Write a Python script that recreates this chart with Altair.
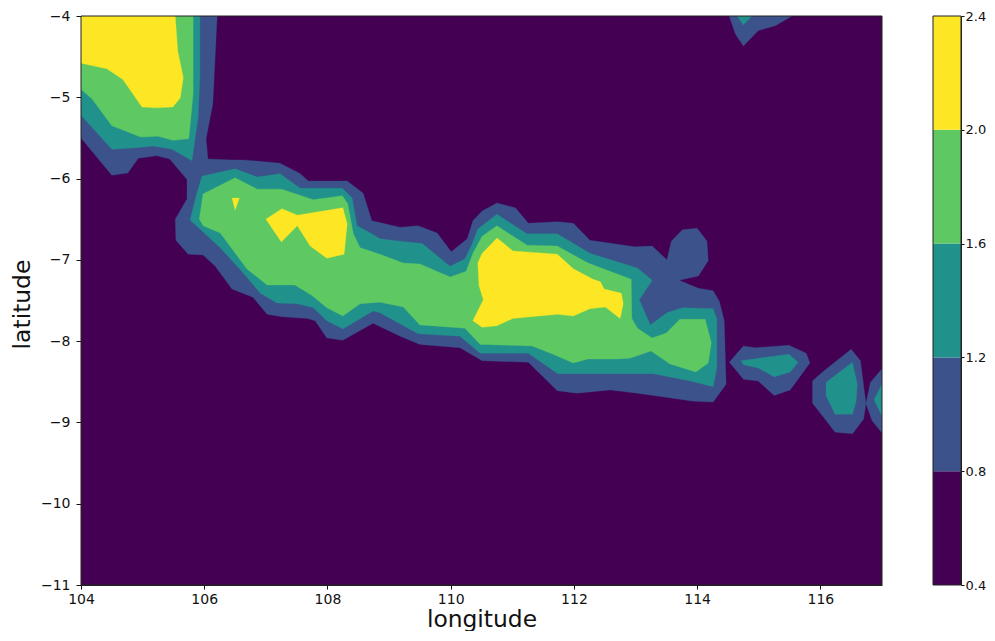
import altair as alt
import pandas as pd

LEVELS = [0.4, 0.8, 1.2, 1.6, 2.0, 2.4]
COLORS = ["#440154", "#3b528b", "#21918c", "#5ec962", "#fde725"]

BLUE_MAIN = [(104,-4),(106.21,-4),(106.14,-5.08),(106.03,-5.51),(106.06,-5.76),(106.47,-5.77),(106.63,-5.77),(107.23,-5.81),(107.56,-5.94),(107.69,-6.03),(108.32,-6.03),(108.58,-6.18),(108.72,-6.52),(109.18,-6.60),(109.47,-6.58),(109.78,-6.67),(110.01,-6.90),(110.27,-6.74),(110.36,-6.52),(110.51,-6.40),(110.75,-6.30),(111.05,-6.36),(111.26,-6.55),(111.73,-6.53),(111.99,-6.55),(112.26,-6.76),(112.99,-6.84),(113.27,-6.83),(113.51,-7.00),(113.58,-6.77),(113.76,-6.63),(114.00,-6.61),(114.16,-6.77),(114.18,-7.01),(114.02,-7.20),(113.71,-7.25),(114.02,-7.35),(114.26,-7.38),(114.36,-7.51),(114.44,-7.75),(114.47,-8.53),(114.26,-8.75),(113.94,-8.74),(113.03,-8.64),(112.59,-8.60),(112.05,-8.64),(111.73,-8.61),(111.26,-8.26),(110.51,-8.24),(110.15,-8.08),(109.50,-8.04),(109.18,-7.94),(108.74,-7.78),(108.25,-7.99),(107.99,-7.96),(107.80,-7.75),(107.67,-7.72),(107.26,-7.70),(107.02,-7.67),(106.79,-7.46),(106.45,-7.36),(106.18,-7.08),(105.98,-6.94),(105.74,-6.93),(105.54,-6.76),(105.53,-6.50),(105.72,-6.25),(105.72,-6.01),(105.44,-5.76),(105.23,-5.72),(104.93,-5.75),(104.76,-5.93),(104.50,-5.96),(104,-5.50)]
BLUE_BALI = [(114.52,-8.26),(114.75,-8.06),(114.94,-8.08),(115.49,-8.05),(115.77,-8.15),(115.83,-8.27),(115.51,-8.60),(115.25,-8.67),(114.99,-8.49),(114.75,-8.47)]
BLUE_LOMBOK = [(115.87,-8.49),(116.05,-8.37),(116.50,-8.10),(116.65,-8.24),(116.74,-8.77),(116.70,-8.96),(116.52,-9.14),(116.24,-9.12),(115.87,-8.76)]
BLUE_EDGE = [(117,-8.34),(116.81,-8.51),(116.74,-8.77),(116.84,-8.98),(117,-9.13)]
BLUE_TOP = [(114.52,-4),(114.62,-4.22),(114.75,-4.37),(114.99,-4.18),(115.27,-4.12),(115.54,-4)]

TEAL_NW = [(104,-4),(105.93,-4),(105.93,-4.76),(105.90,-5.25),(105.80,-5.78),(105.48,-5.64),(105.17,-5.60),(104.91,-5.62),(104.50,-5.64),(104,-5.22)]
TEAL_MAIN = [(105.96,-5.97),(106.50,-5.88),(106.86,-5.98),(107.23,-5.94),(107.56,-6.12),(108.24,-6.12),(108.40,-6.24),(108.48,-6.58),(108.72,-6.68),(108.85,-6.74),(109.18,-6.77),(109.54,-6.80),(109.75,-6.93),(109.99,-7.08),(110.23,-6.99),(110.35,-6.80),(110.44,-6.62),(110.75,-6.44),(111.24,-6.68),(111.73,-6.68),(112.26,-6.92),(113.03,-7.10),(113.27,-7.25),(113.06,-7.49),(113.24,-7.80),(113.51,-7.65),(113.76,-7.59),(114.26,-7.60),(114.32,-7.73),(114.32,-8.33),(114.26,-8.56),(113.89,-8.49),(113.29,-8.40),(112.59,-8.40),(111.74,-8.40),(111.26,-8.15),(110.48,-8.15),(110.15,-7.94),(109.47,-7.91),(108.85,-7.65),(108.74,-7.63),(108.25,-7.85),(107.99,-7.75),(107.77,-7.59),(107.51,-7.54),(107.18,-7.53),(106.91,-7.41),(106.63,-7.16),(106.26,-6.85),(105.77,-6.51),(105.88,-6.18)]
TEAL_BALI = [(114.71,-8.24),(115.49,-8.16),(115.64,-8.26),(115.51,-8.38),(115.25,-8.44),(114.99,-8.33),(114.75,-8.29)]
TEAL_LOMBOK = [(116.09,-8.51),(116.52,-8.26),(116.60,-8.53),(116.58,-8.74),(116.52,-8.90),(116.24,-8.90),(116.09,-8.67)]
TEAL_EDGE = [(117,-8.53),(116.87,-8.72),(117,-8.92)]
TEAL_TOP = [(114.65,-4),(114.75,-4.11),(114.89,-4)]

GREEN_NW = [(104,-4),(105.82,-4),(105.82,-4.96),(105.75,-5.51),(105.49,-5.53),(105.25,-5.48),(104.97,-5.49),(104.50,-5.35),(104.18,-5.02),(104,-4.90)]
GREEN_MAIN = [(105.92,-6.50),(105.98,-6.19),(106.50,-5.99),(106.86,-6.13),(107.26,-6.13),(107.77,-6.26),(108.24,-6.21),(108.33,-6.31),(108.42,-6.68),(108.53,-6.85),(108.85,-6.93),(109.23,-7.04),(109.50,-7.05),(109.99,-7.21),(110.25,-7.14),(110.36,-6.92),(110.51,-6.71),(110.75,-6.58),(111.24,-6.82),(111.73,-6.83),(112.23,-7.04),(112.93,-7.24),(112.94,-7.72),(113.03,-7.84),(113.27,-7.96),(113.50,-7.90),(113.72,-7.73),(114.13,-7.73),(114.23,-8.02),(114.18,-8.27),(113.98,-8.38),(113.56,-8.28),(113.25,-8.12),(112.91,-8.21),(112.70,-8.22),(112.23,-8.22),(111.99,-8.27),(111.66,-8.16),(111.32,-8.06),(110.48,-8.04),(110.23,-7.84),(109.50,-7.80),(109.23,-7.58),(108.85,-7.52),(108.53,-7.54),(108.25,-7.69),(107.99,-7.59),(107.75,-7.44),(107.47,-7.31),(107.02,-7.31),(106.69,-7.11),(106.26,-6.67),(105.98,-6.58)]

YELLOW_NW = [(104,-4),(105.53,-4),(105.57,-4.43),(105.66,-4.76),(105.61,-5.01),(105.49,-5.12),(105.23,-5.13),(104.99,-5.12),(104.68,-4.78),(104.42,-4.65),(104,-4.58)]
YELLOW_DOT = [(106.45,-6.24),(106.57,-6.24),(106.50,-6.39)]
YELLOW_WEST = [(107.00,-6.50),(107.26,-6.37),(107.51,-6.45),(108.25,-6.36),(108.32,-6.56),(108.27,-6.93),(107.99,-6.98),(107.72,-6.83),(107.51,-6.58),(107.25,-6.78)]
YELLOW_EAST = [(110.75,-6.73),(111.01,-6.89),(111.73,-6.93),(111.99,-7.11),(112.31,-7.24),(112.43,-7.27),(112.49,-7.36),(112.77,-7.41),(112.80,-7.54),(112.75,-7.72),(112.51,-7.58),(112.26,-7.60),(111.99,-7.69),(111.73,-7.67),(111.01,-7.72),(110.75,-7.81),(110.51,-7.83),(110.36,-7.75),(110.53,-7.49),(110.46,-7.32),(110.44,-7.04),(110.51,-6.92)]

BANDS = [
    (COLORS[1], [BLUE_MAIN, BLUE_BALI, BLUE_LOMBOK, BLUE_EDGE, BLUE_TOP]),
    (COLORS[2], [TEAL_NW, TEAL_MAIN, TEAL_BALI, TEAL_LOMBOK, TEAL_EDGE, TEAL_TOP]),
    (COLORS[3], [GREEN_NW, GREEN_MAIN]),
    (COLORS[4], [YELLOW_NW, YELLOW_DOT, YELLOW_WEST, YELLOW_EAST]),
]

FONT = "DejaVu Sans"
x_scale = alt.Scale(domain=[104, 117], nice=False, zero=False)
y_scale = alt.Scale(domain=[-11, -4], nice=False, zero=False)
x_axis = alt.Axis(title="longitude", values=list(range(104, 117, 2)), grid=False, format="d",
                  titleFontSize=23.4, titleFont=FONT, titleFontWeight="normal", titleColor="#111",
                  labelFont=FONT, labelFontSize=14, labelColor="#111", labelFlush=False,
                  tickColor="#111", tickSize=4, domainColor="#222", labelPadding=3, titlePadding=2)
y_axis = alt.Axis(title="latitude", values=list(range(-11, -3)), grid=False, format="d",
                  titleFontSize=23.4, titleFont=FONT, titleFontWeight="normal", titleColor="#111",
                  labelFont=FONT, labelFontSize=14, labelColor="#111", titleY=288,
                  tickColor="#111", tickSize=5, domainColor="#222", labelPadding=6, titlePadding=6)

frame = pd.DataFrame({"lon": [104], "lat": [-11], "lon2": [117], "lat2": [-4]})
X = alt.X("lon:Q", scale=x_scale, axis=x_axis)
Y = alt.Y("lat:Q", scale=y_scale, axis=y_axis)

layers = [alt.Chart(frame).mark_rect(color=COLORS[0]).encode(x=X, x2="lon2:Q", y=Y, y2="lat2:Q")]
for color, regions in BANDS:
    rows = []
    for r, region in enumerate(regions):
        for i, (lon, lat) in enumerate(region):
            rows.append({"lon": lon, "lat": lat, "region": r, "idx": i})
    layers.append(
        alt.Chart(pd.DataFrame(rows))
        .mark_line(fill=color, stroke=color, strokeWidth=0.3, interpolate="linear", clip=True)
        .encode(x=X, y=Y, detail="region:N", order="idx:Q")
    )
layers.append(
    alt.Chart(frame).mark_rect(fill=None, stroke="#222", strokeWidth=1)
    .encode(x=X, x2="lon2:Q", y=Y, y2="lat2:Q")
)
main = alt.layer(*layers).properties(width=801, height=569)

bar = pd.DataFrame({"lo": LEVELS[:-1], "hi": LEVELS[1:], "c": COLORS})
cy = alt.Y("lo:Q", scale=alt.Scale(domain=[0.4, 2.4], nice=False, zero=False),
           axis=alt.Axis(orient="right", title=None, values=LEVELS, format=".1f", grid=False,
                         labelFont=FONT, labelFontSize=13, labelColor="#111",
                         tickColor="#111", tickSize=3, domainColor="#222", labelPadding=1))
cbar_frame = pd.DataFrame({"lo": [LEVELS[0]], "hi": [LEVELS[-1]]})
cbar = alt.layer(
    alt.Chart(bar).mark_rect().encode(y=cy, y2="hi:Q", color=alt.Color("c:N", scale=None)),
    alt.Chart(cbar_frame).mark_rect(fill=None, stroke="#222", strokeWidth=1).encode(y=cy, y2="hi:Q"),
).properties(width=28, height=569)

chart = (
    alt.hconcat(main, cbar, spacing=49)
    .properties(padding={"left": 2, "top": 1, "right": 0, "bottom": 0})
    .configure_view(stroke=None)
    .configure_axis(domainWidth=1, tickWidth=1)
)
chart.save("out.html", embed_options={"renderer": "svg", "actions": False})
